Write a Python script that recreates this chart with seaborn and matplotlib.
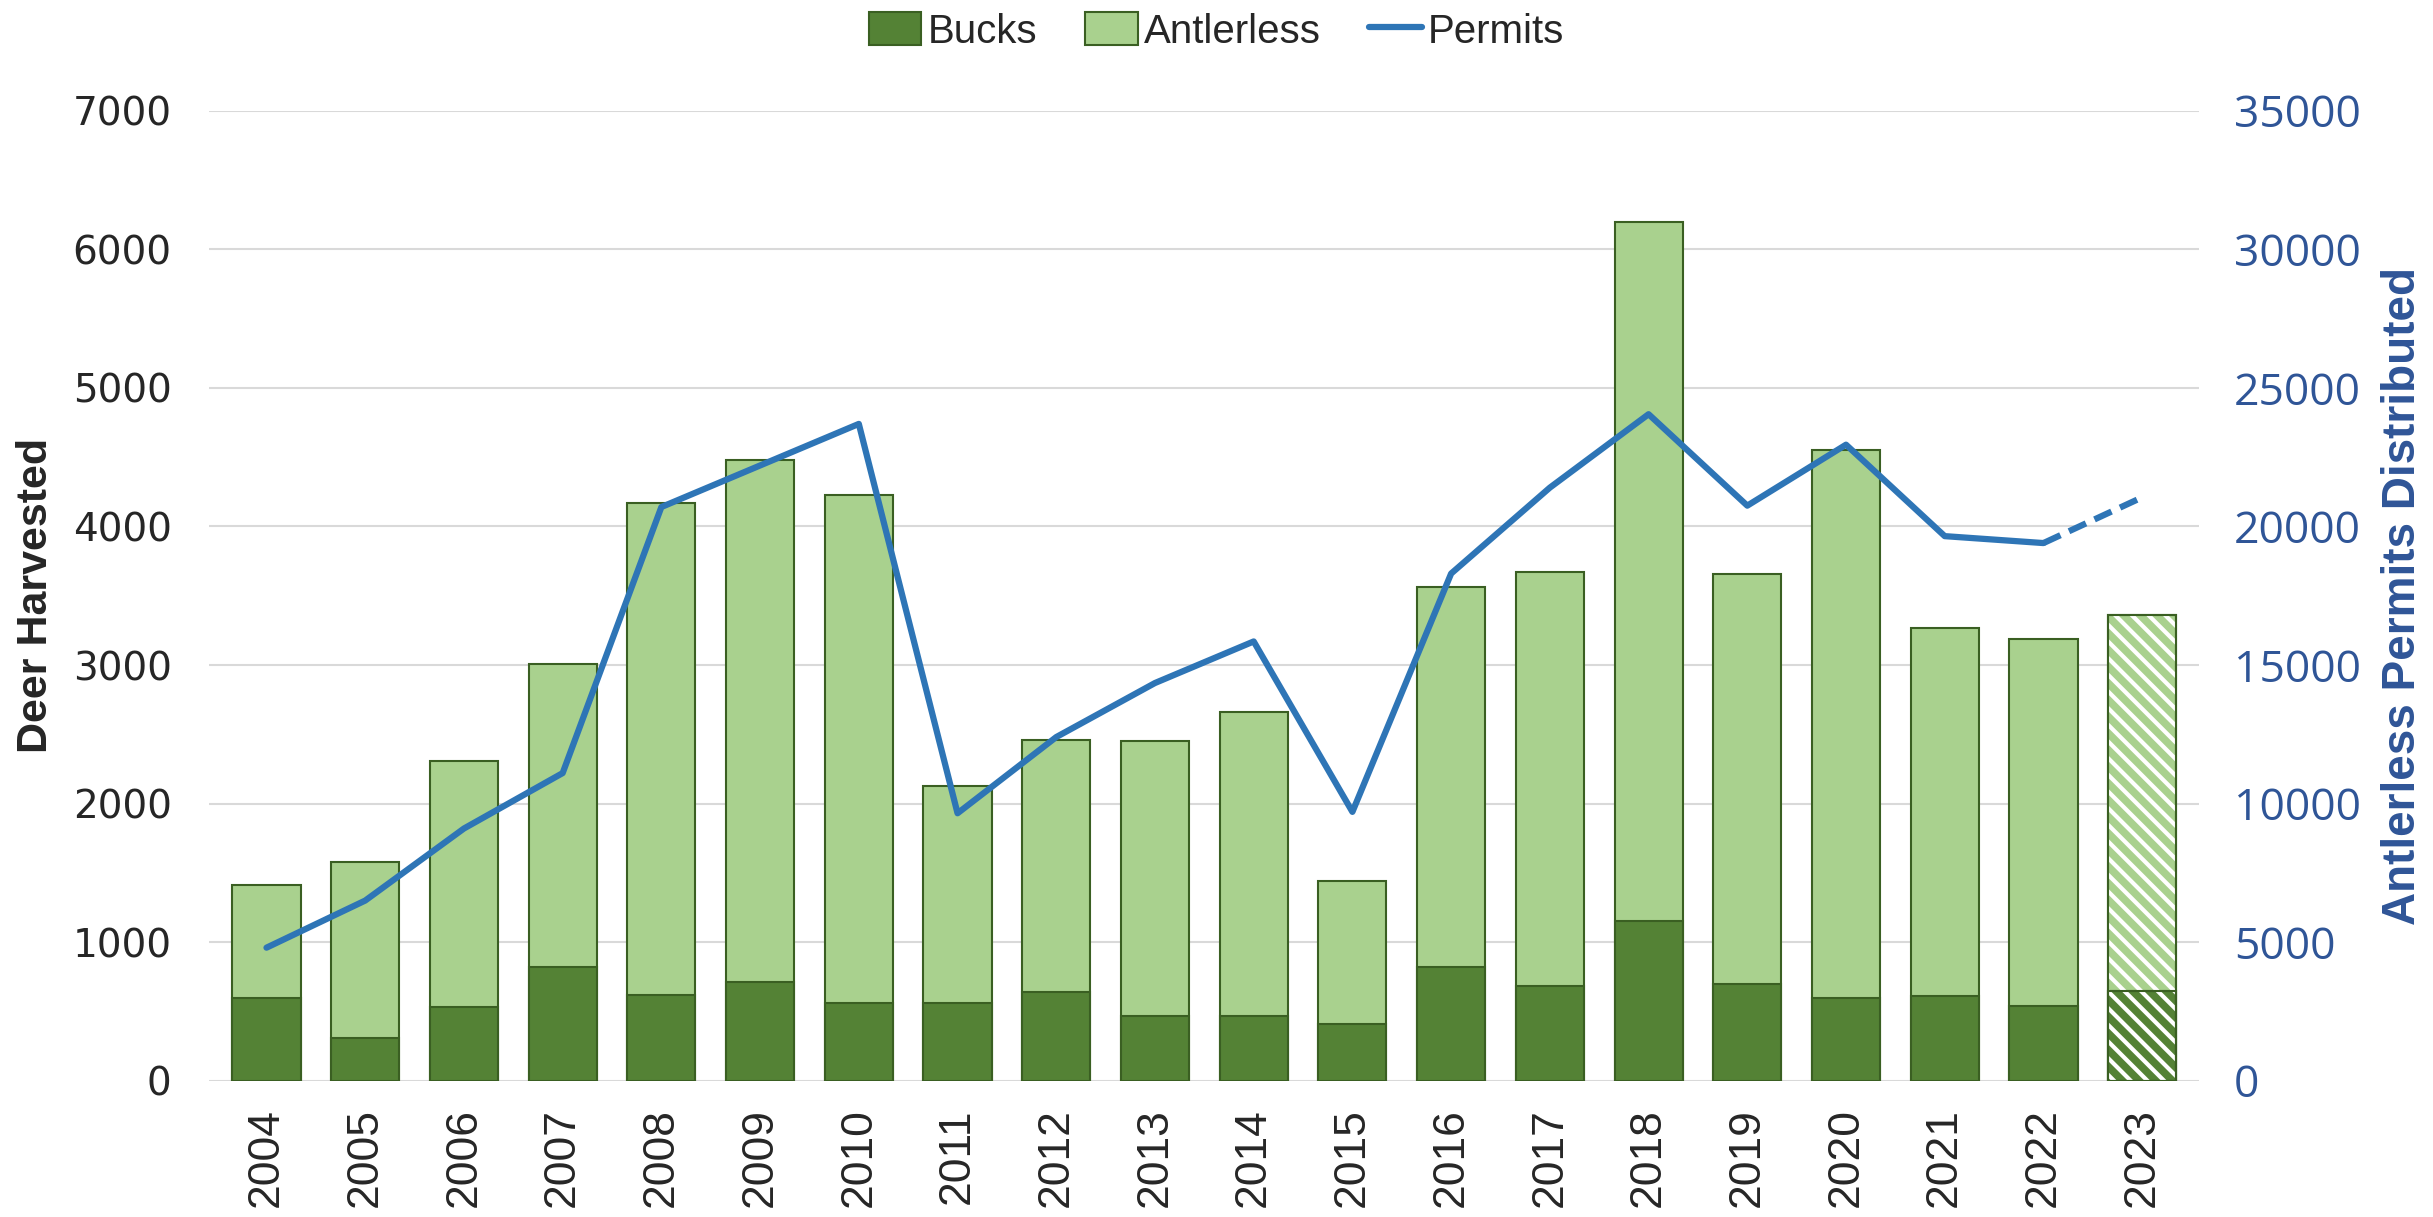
import matplotlib
matplotlib.use("Agg")
import matplotlib.pyplot as plt
import seaborn as sns
import pandas as pd
from matplotlib.patches import Patch
from matplotlib.lines import Line2D

# data
years = [str(y) for y in range(2004, 2024)]
bucks = [600, 310, 530, 820, 620, 710, 560, 560, 640, 470,
         470, 410, 820, 680, 1150, 700, 600, 610, 540, 650]
total = [1410, 1580, 2310, 3010, 4170, 4480, 4230, 2130, 2460, 2450,
         2660, 1440, 3560, 3670, 6200, 3660, 4550, 3270, 3190, 3360]
permits = [4800, 6500, 9100, 11100, 20700, 22200, 23700, 9650, 12400, 14350,
           15850, 9700, 18300, 21400, 24050, 20750, 22950, 19650, 19400, 21050]

c_buck = "#548235"
c_anti = "#A9D18E"
c_edge = "#3A5F22"
c_line = "#2E75B6"
c_right = "#2F5597"

sns.set_style("white")
plt.rcParams['font.family'] = ['Liberation Sans', 'DejaVu Sans']
plt.rcParams['hatch.linewidth'] = 3

df = pd.DataFrame({"year": years, "bucks": bucks, "total": total, "permits": permits})

fig = plt.figure(figsize=(24.33, 12.17), dpi=100)
ax = fig.add_axes([0.086, 0.112, 0.818, 0.797])

# stacked bars: total (antlerless on top) then bucks over it
sns.barplot(data=df, x="year", y="total", color=c_anti, saturation=1, width=0.69,
            edgecolor=c_edge, linewidth=1.5, ax=ax)
sns.barplot(data=df, x="year", y="bucks", color=c_buck, saturation=1, width=0.69,
            edgecolor=c_edge, linewidth=1.5, ax=ax)

# 2023 is preliminary: white hatch over both segments
last = len(years) - 1
ax.bar(last, total[last] - bucks[last], bottom=bucks[last], width=0.69,
       facecolor="none", edgecolor="white", hatch="\\\\", linewidth=0, zorder=3)
ax.bar(last, bucks[last], width=0.69, facecolor="none", edgecolor="white",
       hatch="\\\\", linewidth=0, zorder=3)
ax.bar(last, total[last], width=0.69, facecolor="none", edgecolor=c_edge,
       linewidth=1.5, zorder=4)
ax.bar(last, bucks[last], width=0.69, facecolor="none", edgecolor=c_edge,
       linewidth=1.5, zorder=4)

ax.set_ylim(0, 7000)
ax.set_yticks(range(0, 7001, 1000))
ax.set_xlim(-0.58, len(years) - 0.42)
ax.yaxis.grid(True, color="#D9D9D9", linewidth=1.5)
ax.set_axisbelow(True)
for s in ax.spines.values():
    s.set_visible(False)
ax.tick_params(axis="y", labelsize=28, length=0, pad=27)
ax.tick_params(axis="x", labelsize=32, length=0, rotation=90, pad=20)
for t in ax.get_yticklabels():
    t.set_family(['DejaVu Sans'])
ax.set_xlabel("")
ax.set_ylabel("Deer Harvested", fontsize=31, fontweight="bold")
ax.yaxis.set_label_coords(-0.077, 0.5)

# permits on the right axis
ax2 = ax.twinx()
xs = list(range(len(years)))
sns.lineplot(x=xs[:-1], y=permits[:-1], color=c_line, linewidth=4.5, ax=ax2)
sns.lineplot(x=xs[-2:], y=permits[-2:], color=c_line, linewidth=4.5, ax=ax2)
ax2.lines[-1].set_linestyle((0, (3, 1.5)))
ax2.set_ylim(0, 35000)
ax2.set_yticks(range(0, 35001, 5000))
for s in ax2.spines.values():
    s.set_visible(False)
ax2.tick_params(axis="y", labelsize=32, length=0, pad=25, labelcolor=c_right)
for t in ax2.get_yticklabels():
    t.set_family(['Open Sans', 'DejaVu Sans'])
ax2.set_ylabel("Antlerless Permits Distributed", fontsize=33, fontweight="bold",
               color=c_right)
ax2.yaxis.set_label_coords(1.091, 0.5)

handles = [Patch(facecolor=c_buck, edgecolor=c_edge, linewidth=1.5),
           Patch(facecolor=c_anti, edgecolor=c_edge, linewidth=1.5),
           Line2D([0], [0], color=c_line, linewidth=4.5)]
fig.legend(handles, ["Bucks", "Antlerless", "Permits"], loc="upper center",
           bbox_to_anchor=(0.5, 1.02), ncol=3, frameon=False, fontsize=29,
           handlelength=1.3, handleheight=0.9, handletextpad=0.15, columnspacing=1.2)

fig.savefig("out.png", dpi=100)
